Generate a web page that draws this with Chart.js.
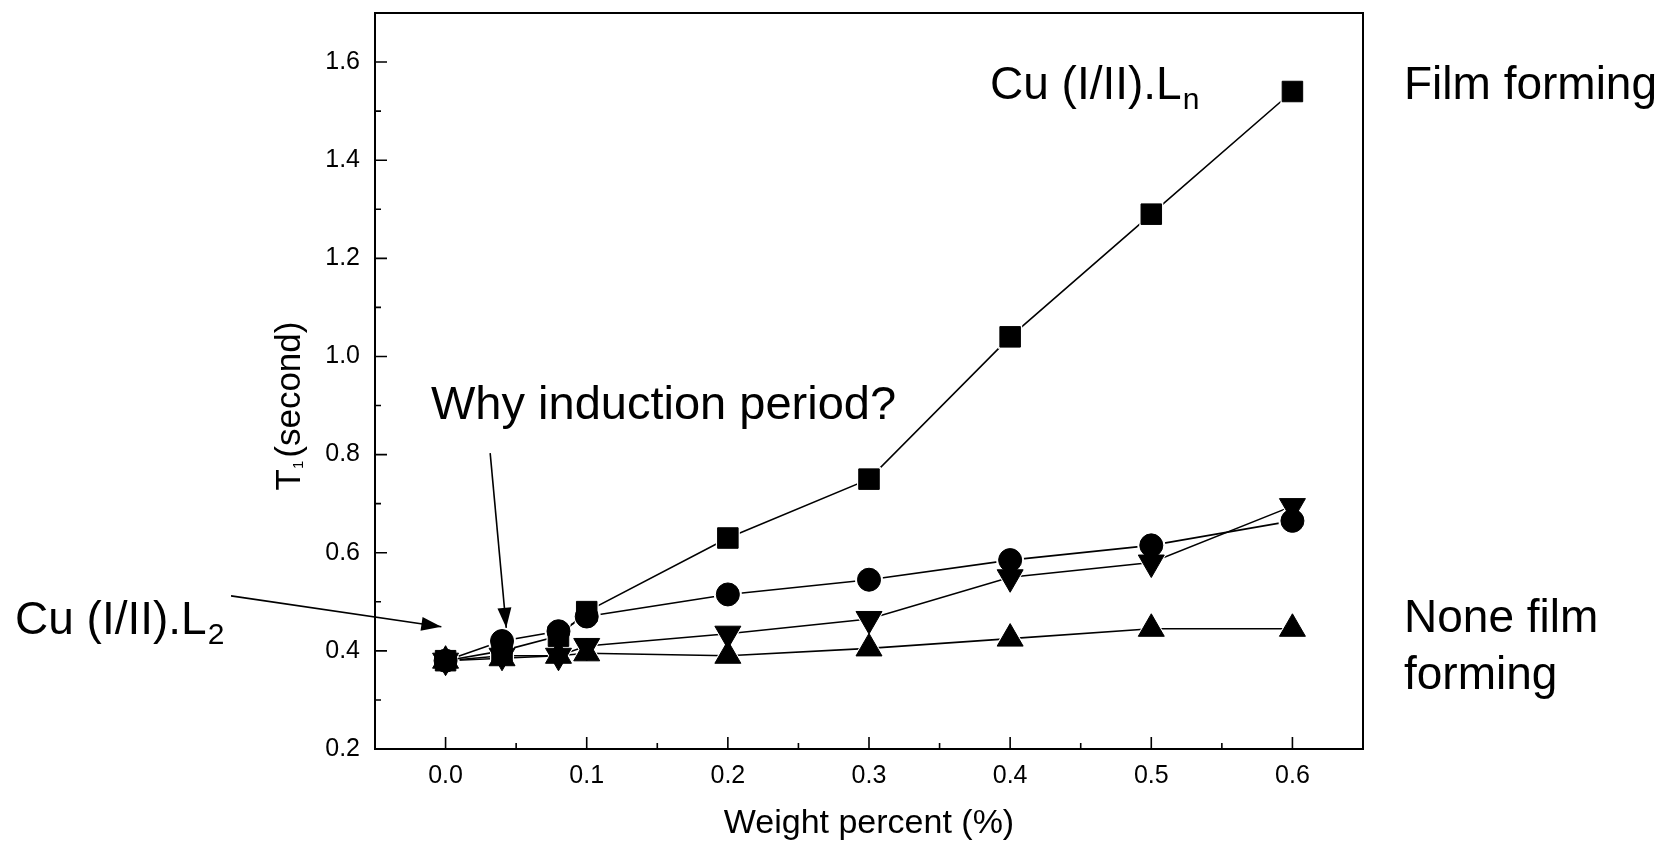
<!DOCTYPE html>
<html>
<head>
<meta charset="utf-8">
<script src="https://cdn.jsdelivr.net/npm/chart.js@4/dist/chart.umd.min.js"></script>
<style>
  html, body { margin: 0; padding: 0; background: #fff; }
  #wrap { width: 1670px; height: 847px; }
</style>
</head>
<body>
<div id="wrap"><canvas id="chart" width="1670" height="847"></canvas></div>
<script>
// ---- data ----
const weights = [0, 0.04, 0.08, 0.1, 0.2, 0.3, 0.4, 0.5, 0.6];
const squareT1 = [0.38, 0.40, 0.43, 0.48, 0.63, 0.75, 1.04, 1.29, 1.54];
const circleT1 = [0.38, 0.42, 0.44, 0.47, 0.515, 0.545, 0.585, 0.615, 0.665];
const downTriT1 = [0.38, 0.39, 0.39, 0.41, 0.435, 0.465, 0.55, 0.58, 0.695];
const upTriT1 = [0.38, 0.385, 0.39, 0.395, 0.39, 0.405, 0.425, 0.445, 0.445];

const xTicks = [0, 0.1, 0.2, 0.3, 0.4, 0.5, 0.6];
const yTicks = [0.2, 0.4, 0.6, 0.8, 1.0, 1.2, 1.4, 1.6];

const FONT = '"Liberation Sans", Arial, Helvetica, sans-serif';
const INK = '#000';

function series(ys) {
    return weights.map((x, i) => ({ x, y: ys[i] }));
}

// line only; white points cut a small gap round each symbol like the original
function lineSet(label, ys, style, radius, rotation) {
    return {
        label,
        data: series(ys),
        order: 10,
        borderColor: INK,
        borderWidth: 1.6,
        pointStyle: style,
        pointRadius: radius,
        pointHoverRadius: radius,
        pointRotation: rotation || 0,
        pointBackgroundColor: '#fff',
        pointBorderColor: '#fff',
        pointBorderWidth: 0,
        showLine: true,
        fill: false,
        tension: 0
    };
}

// solid symbols, drawn after every line
function symbolSet(label, ys, style, radius, rotation, order) {
    return {
        label,
        data: series(ys),
        order,
        showLine: false,
        pointStyle: style,
        pointRadius: radius,
        pointHoverRadius: radius,
        pointRotation: rotation || 0,
        pointBackgroundColor: INK,
        pointBorderColor: INK,
        pointBorderWidth: 1
    };
}

// frame, inward ticks, y title and text notes
const decorations = {
    id: 'decorations',
    afterDraw(chart) {
        const { ctx, chartArea: a, scales: { x, y } } = chart;
        ctx.save();
        ctx.strokeStyle = INK;
        ctx.lineWidth = 2;
        ctx.strokeRect(a.left, a.top, a.right - a.left, a.bottom - a.top);

        ctx.lineWidth = 1.6;
        ctx.beginPath();
        xTicks.forEach(v => {
            const px = x.getPixelForValue(v);
            ctx.moveTo(px, a.bottom); ctx.lineTo(px, a.bottom - 12);
            const mx = x.getPixelForValue(v + 0.05);
            if (mx < a.right - 2) { ctx.moveTo(mx, a.bottom); ctx.lineTo(mx, a.bottom - 6); }
        });
        yTicks.forEach(v => {
            const py = y.getPixelForValue(v);
            ctx.moveTo(a.left, py); ctx.lineTo(a.left + 12, py);
            const my = y.getPixelForValue(v + 0.1);
            if (my > a.top + 2) { ctx.moveTo(a.left, my); ctx.lineTo(a.left + 6, my); }
        });
        ctx.stroke();

        ctx.fillStyle = INK;
        ctx.textBaseline = 'alphabetic';
        ctx.textAlign = 'left';

        // y axis title, rotated, with a small subscript
        ctx.save();
        ctx.translate(300, 406);
        ctx.rotate(-Math.PI / 2);
        ctx.font = '35px ' + FONT;
        const wT = ctx.measureText('T').width;
        const wRest = ctx.measureText('(second)').width;
        ctx.font = '15px ' + FONT;
        const wSub = ctx.measureText('1').width;
        let cx = -(wT + wSub + 3 + wRest) / 2;
        ctx.font = '35px ' + FONT;
        ctx.fillText('T', cx, 0);
        cx += wT;
        ctx.font = '15px ' + FONT;
        ctx.fillText('1', cx, 3);
        cx += wSub + 3;
        ctx.font = '35px ' + FONT;
        ctx.fillText('(second)', cx, 0);
        ctx.restore();

        const sub = (main, s, px, py) => {
            ctx.font = '46px ' + FONT;
            ctx.fillText(main, px, py);
            const w = ctx.measureText(main).width;
            ctx.font = '30px ' + FONT;
            ctx.fillText(s, px + w + 1, py + 10);
        };
        sub('Cu (I/II).L', 'n', 990, 99);
        sub('Cu (I/II).L', '2', 15, 634);

        ctx.font = '47px ' + FONT;
        ctx.fillText('Why induction period?', 431, 419);
        ctx.font = '46px ' + FONT;
        ctx.fillText('Film forming', 1404, 99);
        ctx.fillText('None film', 1404, 632);
        ctx.fillText('forming', 1404, 689);

        // arrows
        const arrow = (x0, y0, x1, y1) => {
            ctx.lineWidth = 1.6;
            ctx.beginPath(); ctx.moveTo(x0, y0); ctx.lineTo(x1, y1); ctx.stroke();
            const ang = Math.atan2(y1 - y0, x1 - x0);
            const len = 20, half = 7;
            ctx.beginPath();
            ctx.moveTo(x1, y1);
            ctx.lineTo(x1 - len * Math.cos(ang) + half * Math.sin(ang), y1 - len * Math.sin(ang) - half * Math.cos(ang));
            ctx.lineTo(x1 - len * Math.cos(ang) - half * Math.sin(ang), y1 - len * Math.sin(ang) + half * Math.cos(ang));
            ctx.closePath();
            ctx.fill();
        };
        arrow(x.getPixelForValue(0.0316), y.getPixelForValue(0.803),
              x.getPixelForValue(0.043), y.getPixelForValue(0.447));
        arrow(x.getPixelForValue(-0.152), y.getPixelForValue(0.512),
              x.getPixelForValue(-0.003), y.getPixelForValue(0.449));
        ctx.restore();
    }
};

new Chart(document.getElementById('chart'), {
    type: 'scatter',
    data: {
        datasets: [
            lineSet('square line', squareT1, 'rect', 17),
            lineSet('circle line', circleT1, 'circle', 14),
            lineSet('down triangle line', downTriT1, 'triangle', 18, 180),
            lineSet('up triangle line', upTriT1, 'triangle', 18),
            symbolSet('Cu (I/II).Ln', squareT1, 'rect', 14.5, 0, 4),
            symbolSet('circle', circleT1, 'circle', 11.5, 0, 3),
            symbolSet('down triangle', downTriT1, 'triangle', 15, 180, 2),
            symbolSet('up triangle', upTriT1, 'triangle', 15, 0, 1)
        ]
    },
    options: {
        responsive: false,
        animation: false,
        layout: { autoPadding: false, padding: { left: 255, right: 307, top: 13, bottom: 0 } },
        plugins: {
            legend: { display: false },
            tooltip: { enabled: false }
        },
        scales: {
            x: {
                type: 'linear',
                min: -0.05,
                max: 0.65,
                grid: { display: false, drawTicks: false },
                border: { display: true, color: INK, width: 2 },
                afterBuildTicks: s => { s.ticks = xTicks.map(v => ({ value: v })); },
                afterFit: s => { s.height = 98; s.paddingLeft = 0; s.paddingRight = 0; },
                ticks: {
                    padding: 12,
                    color: INK,
                    font: { family: FONT, size: 25 },
                    callback: v => Number(v).toFixed(1)
                },
                title: {
                    display: true,
                    text: 'Weight percent (%)',
                    color: INK,
                    font: { family: FONT, size: 34 },
                    padding: { top: 0, bottom: 3 }
                }
            },
            y: {
                type: 'linear',
                min: 0.2,
                max: 1.7,
                grid: { display: false, drawTicks: false },
                border: { display: true, color: INK, width: 2 },
                afterBuildTicks: s => { s.ticks = yTicks.map(v => ({ value: v })); },
                afterFit: s => { s.width = 120; s.paddingTop = 0; s.paddingBottom = 0; },
                ticks: {
                    padding: 15,
                    color: INK,
                    font: { family: FONT, size: 25 },
                    callback: v => Number(v).toFixed(1)
                },
                title: { display: false }
            }
        }
    },
    plugins: [decorations]
});
</script>
</body>
</html>
